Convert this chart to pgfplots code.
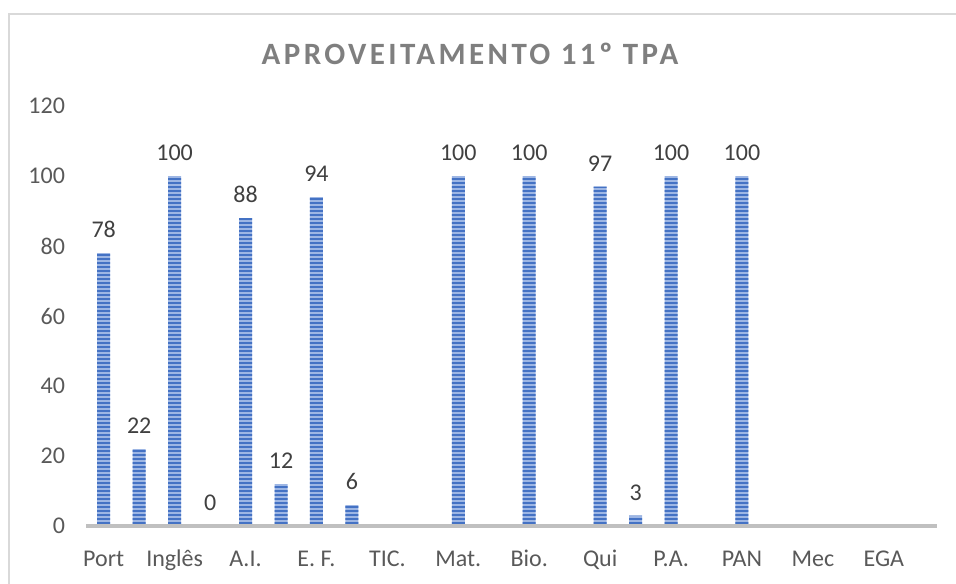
\documentclass[border=0pt]{standalone}
\usepackage{fontspec}
\setmainfont{Carlito}
\newfontfamily\titlefont[LetterSpace=11]{Carlito}
\usepackage{pgfplots}
\pgfplotsset{compat=1.18}
\usetikzlibrary{patterns.meta}
\definecolor{barblue}{HTML}{4472C4}
\definecolor{barlight}{HTML}{9DB6E4}
\definecolor{ticktext}{HTML}{595959}
\definecolor{labeltext}{HTML}{404040}
\definecolor{titlegray}{HTML}{7F7F7F}
\definecolor{framegray}{HTML}{D9D9D9}
\definecolor{axisgray}{HTML}{C0C0C0}

\begin{document}
\begin{tikzpicture}
% page is 956 x 583 px, 1 px = 0.5pt
\useasboundingbox (0,0) rectangle (478pt,-291.5pt);
\begin{scope}[x=0.5pt,y=-0.5pt]
\draw[framegray, line width=0.8pt] (9,14) rectangle (962,592);
\node[font=\titlefont\bfseries\fontsize{15.5}{18}\selectfont, text=titlegray] at (470,54) {APROVEITAMENTO 11º TPA};
\end{scope}
\begin{axis}[
    at={(43pt,-263pt)},
    anchor=south west,
    scale only axis,
    width=425.5pt,
    height=210pt,
    ybar,
    bar width=6.5pt,
    xmin=-0.5, xmax=23.5,
    ymin=0, ymax=120,
    ytick={0,20,...,120},
    xtick={0,2,...,22},
    xticklabels={Port, Inglês, A.I., E. F., TIC., Mat., Bio., Qui, P.A., PAN, Mec, EGA},
    major tick length=0pt,
    axis line style={draw=none},
    /pgf/number format/assume math mode=true,
    tick label style={font=\fontsize{12}{14}\selectfont, text=ticktext},
    yticklabel style={xshift=-7pt},
    xticklabel style={anchor=base, text height=8pt, text depth=2pt, yshift=-20pt},
    nodes near coords,
    every node near coord/.append style={font=\fontsize{12}{14}\selectfont, text=labeltext, yshift=4pt},
    clip=false,
]
\addplot[draw=none, fill=barlight,
    postaction={pattern={Lines[angle=0,distance=2pt,line width=1pt]}, pattern color=barblue}]
    coordinates {
    (0,78) (1,22) (2,100) (3,0) (4,88) (5,12) (6,94) (7,6)
    (10,100) (12,100) (14,97) (15,3) (16,100) (18,100)
};
\draw[axisgray, line width=1.6pt] (rel axis cs:0,0) -- (rel axis cs:1,0);
\end{axis}
\end{tikzpicture}
\end{document}
